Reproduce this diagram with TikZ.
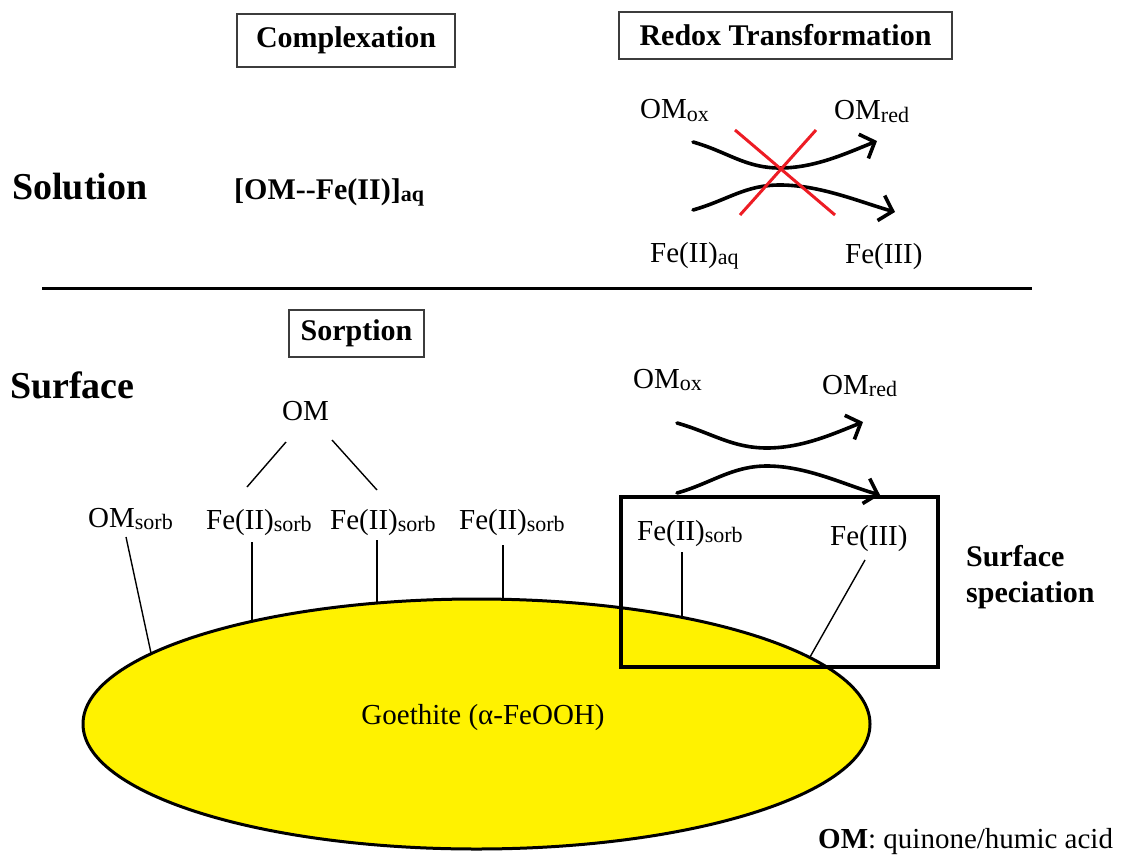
\documentclass[tikz,border=0pt]{standalone}
\usepackage{fontspec}
\setmainfont{Liberation Serif}
\usetikzlibrary{arrows.meta,shapes.geometric}
\definecolor{goeyellow}{RGB}{255,242,0}
\definecolor{xred}{RGB}{237,28,36}
\definecolor{boxgray}{RGB}{60,60,60}
\newcommand\mysub[1]{\raisebox{-2pt}{\fontsize{22}{22}\selectfont #1}}
\begin{document}
\begin{tikzpicture}[x=1pt,y=-1pt,
  lbl/.style={font=\rmfamily\fontsize{29}{34}\selectfont, inner sep=0pt, anchor=base west},
  big/.style={font=\rmfamily\fontsize{38}{44}\selectfont\bfseries, inner sep=0pt, anchor=base west},
  bold30/.style={font=\rmfamily\fontsize{30}{36}\selectfont\bfseries, inner sep=0pt, anchor=base west},
  hdr/.style={draw=boxgray, line width=1.5pt, font=\rmfamily\fontsize{30}{36}\selectfont\bfseries, inner sep=0pt},
  thinline/.style={line width=1.4pt},
  rxn/.style={line width=3.6pt, line cap=round, -{Straight Barb[length=12pt,width=26pt]}},
  cross/.style={xred, line width=3pt}]
\useasboundingbox (0,0) rectangle (1134,856);

% headers
\node[hdr, minimum width=218pt, minimum height=53pt] (complex) at (346,40.5) {Complexation};
\node[hdr, minimum width=333pt, minimum height=47pt] (redox) at (785.5,35.5) {Redox Transformation};
\node[hdr, minimum width=135pt, minimum height=47pt] (sorption) at (356.5,333.5) {Sorption};

\node[big] (solution) at (12,199) {Solution};
\node[big] (surface) at (10,398) {Surface};
\node[bold30] (omfeaq) at (234,199) {[OM-{}-Fe(II)]\mysub{aq}};

% divider
\coordinate (divL) at (42,288);
\coordinate (divR) at (1032,288);
\draw[line width=3pt] (divL) -- (divR);

% solution redox
\node[lbl] (omox1) at (640,119) {OM\mysub{ox}};
\node[lbl] (omred1) at (834,120) {OM\mysub{red}};
\node[lbl] (feaq) at (650,262) {Fe(II)\mysub{aq}};
\node[lbl] (fe3a) at (845,263) {Fe(III)};
\coordinate (s1) at (693,142); \coordinate (m1) at (780,168); \coordinate (e1) at (877,141);
\coordinate (s2) at (693,210); \coordinate (m2) at (780,185); \coordinate (e2) at (895,212);
\draw[rxn] (s1) .. controls +(35,10) and +(-35,0) .. (m1) .. controls +(35,0) and +(-30,12) .. (e1);
\draw[rxn] (s2) .. controls +(35,-10) and +(-35,0) .. (m2) .. controls +(40,0) and +(-35,-10) .. (e2);
\coordinate (x1a) at (735,130); \coordinate (x1b) at (835,215);
\coordinate (x2a) at (816,130); \coordinate (x2b) at (740,215);
\draw[cross] (x1a) -- (x1b);
\draw[cross] (x2a) -- (x2b);

% goethite
\node[ellipse, draw, fill=goeyellow, line width=3pt, inner sep=0pt,
      minimum width=787pt, minimum height=250pt] (goethite) at (476.5,724) {};
\node[font=\rmfamily\fontsize{29}{34}\selectfont, inner sep=0pt] (goetext) at (483,718) {Goethite (α-FeOOH)};

% surface labels
\node[lbl] (om) at (282,420) {OM};
\node[lbl] (omsorb) at (88,527) {OM\mysub{sorb}};
\node[lbl] (fe1) at (206,529) {Fe(II)\mysub{sorb}};
\node[lbl] (fe2) at (330,529) {Fe(II)\mysub{sorb}};
\node[lbl] (fe3) at (459,529) {Fe(II)\mysub{sorb}};

\coordinate (omA1) at (286,442); \coordinate (omA2) at (247,487);
\coordinate (omB1) at (332,440); \coordinate (omB2) at (377,490);
\draw[thinline] (omA1) -- (omA2);
\draw[thinline] (omB1) -- (omB2);
\coordinate (l0a) at (126,537); \coordinate (l0b) at (151,653);
\coordinate (l1a) at (252,542); \coordinate (l1b) at (252,621);
\coordinate (l2a) at (377,540); \coordinate (l2b) at (377,603);
\coordinate (l3a) at (503,545); \coordinate (l3b) at (503,599);
\draw[thinline] (l0a) -- (l0b);
\draw[thinline] (l1a) -- (l1b);
\draw[thinline] (l2a) -- (l2b);
\draw[thinline] (l3a) -- (l3b);

% surface redox
\node[lbl] (omox2) at (633,388) {OM\mysub{ox}};
\node[lbl] (omred2) at (822,394) {OM\mysub{red}};
\coordinate (s3) at (677,423); \coordinate (m3) at (767,448); \coordinate (e3) at (863,422);
\coordinate (s4) at (677,493); \coordinate (m4) at (767,466); \coordinate (e4) at (880,495);
\draw[rxn] (s3) .. controls +(35,10) and +(-35,0) .. (m3) .. controls +(35,0) and +(-30,12) .. (e3);
\draw[rxn] (s4) .. controls +(35,-10) and +(-35,0) .. (m4) .. controls +(40,0) and +(-35,-10) .. (e4);

% speciation box
\node[draw, line width=3.5pt, inner sep=0pt, minimum width=317pt, minimum height=170pt] (specbox) at (779.5,582) {};
\node[lbl] (fesorb) at (637,540) {Fe(II)\mysub{sorb}};
\node[lbl] (fe3b) at (830,545) {Fe(III)};
\coordinate (l4a) at (682,552); \coordinate (l4b) at (682,617);
\coordinate (l5a) at (865,560); \coordinate (l5b) at (810,657);
\draw[thinline] (l4a) -- (l4b);
\draw[thinline] (l5a) -- (l5b);

\node[bold30] (spec1) at (966,566) {Surface};
\node[bold30] (spec2) at (966,602) {speciation};

\node[lbl] (legend) at (818,848) {\textbf{OM}: quinone/humic acid};
\end{tikzpicture}
\end{document}
